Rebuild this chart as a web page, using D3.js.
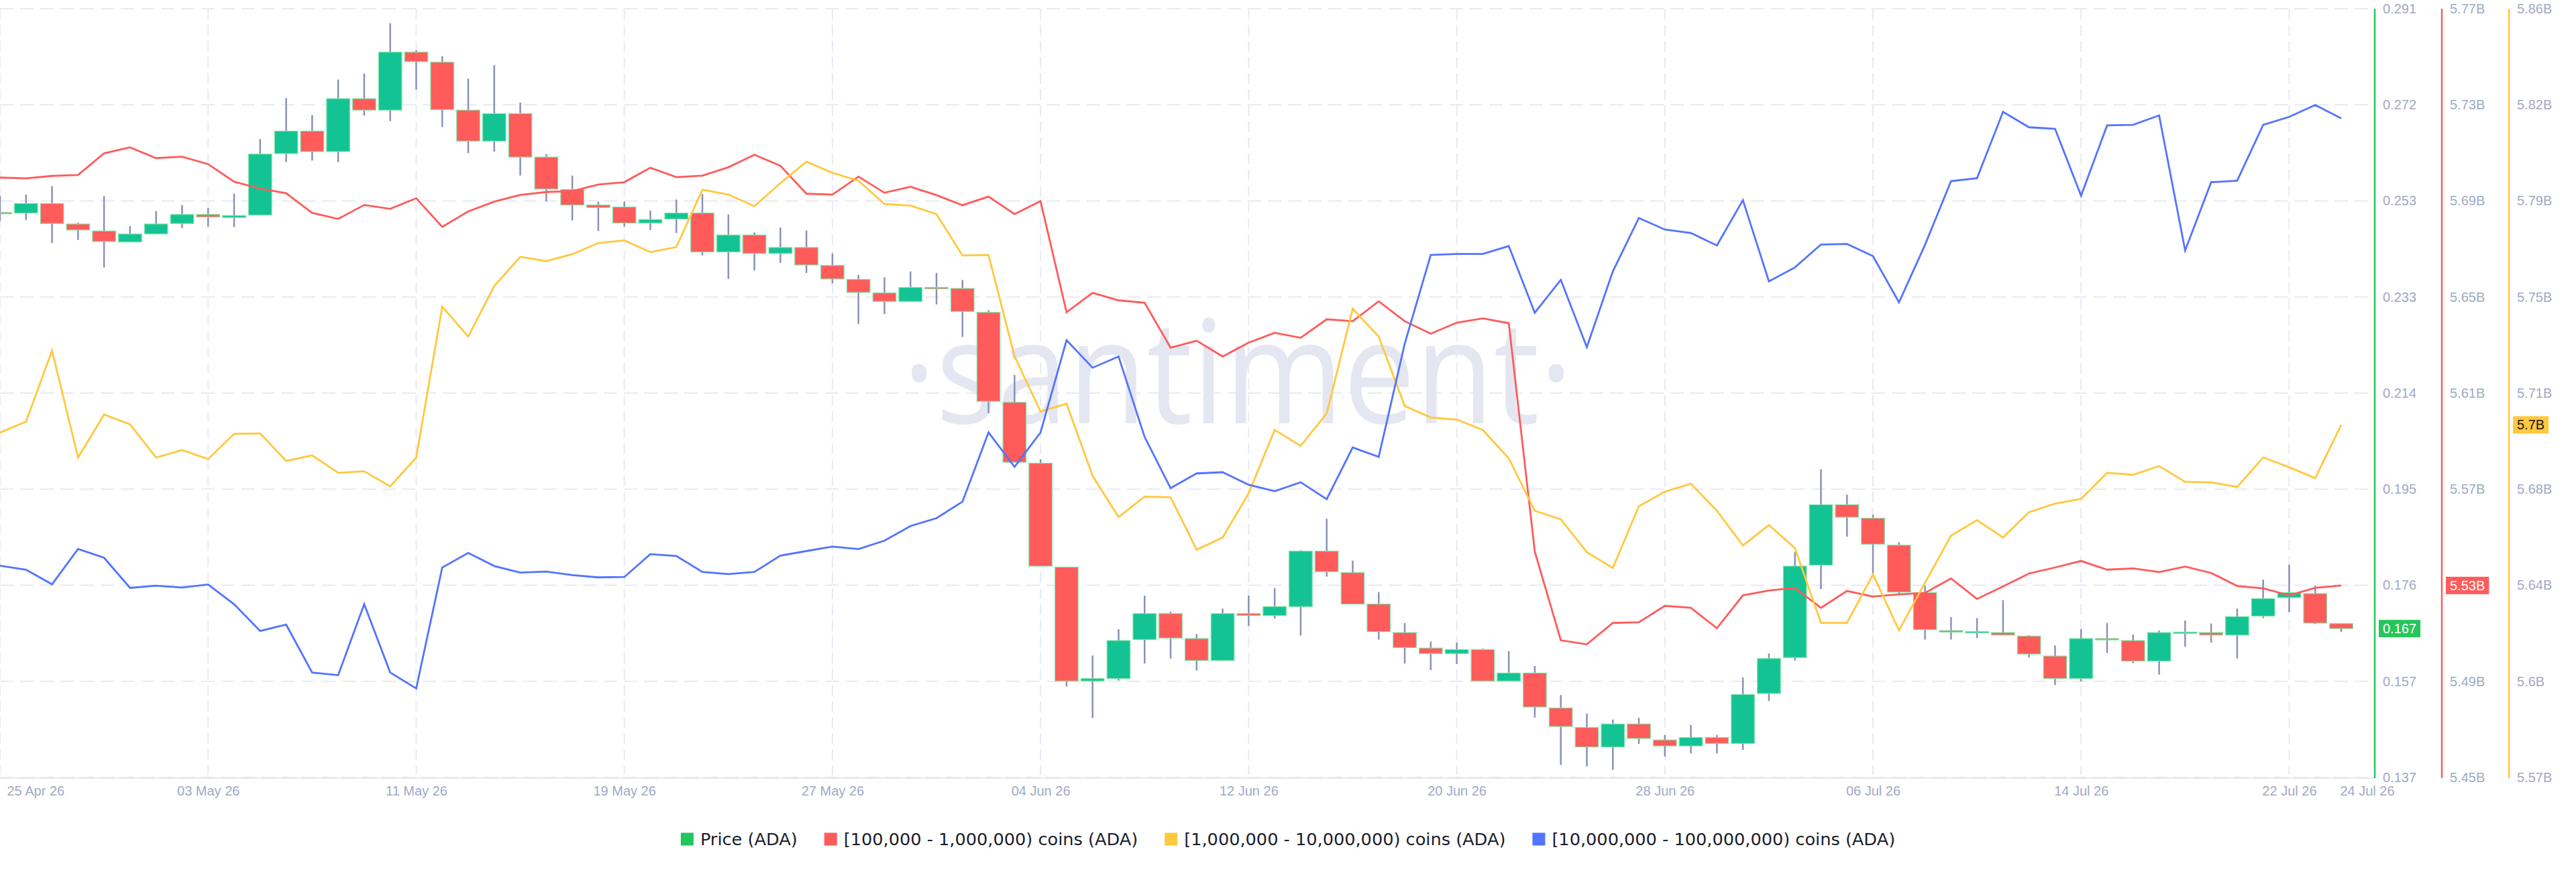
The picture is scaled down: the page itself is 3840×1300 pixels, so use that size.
<!DOCTYPE html>
<html>
<head>
<meta charset="utf-8">
<script src="https://cdn.jsdelivr.net/npm/d3@7"></script>
<style>
  body { margin: 0; background: #fff; }
  svg text { font-family: "Liberation Sans", Arial, sans-serif; }
</style>
</head>
<body>
<div id="chart"></div>
<script>
// Data: ADA daily candles, 25 Apr 26 - 24 Jul 26
var startDay = new Date(2026, 3, 25),
  endDay = new Date(2026, 6, 24);
var days = d3.timeDay.range(startDay, d3.timeDay.offset(endDay, 1));

var priceOpen = [0.2501,0.2500,0.2519,0.2478,0.2464,0.2442,0.2458,0.2479,0.2497,0.2491,
  0.2496,0.2619,0.2664,0.2623,0.2729,0.2706,0.2822,0.2802,0.2706,0.2644,
  0.2699,0.2612,0.2547,0.2516,0.2512,0.2480,0.2488,0.2500,0.2422,0.2456,
  0.2419,0.2431,0.2395,0.2367,0.2340,0.2323,0.2351,0.2349,0.2301,0.2121,
  0.1999,0.1791,0.1563,0.1568,0.1646,0.1698,0.1648,0.1604,0.1698,0.1694,
  0.1712,0.1823,0.1780,0.1717,0.1660,0.1629,0.1618,0.1626,0.1563,0.1579,
  0.1509,0.1470,0.1431,0.1477,0.1445,0.1433,0.1450,0.1438,0.1538,0.1610,
  0.1795,0.1916,0.1889,0.1835,0.1740,0.1664,0.1660,0.1660,0.1653,0.1613,
  0.1568,0.1648,0.1644,0.1603,0.1660,0.1660,0.1655,0.1693,0.1730,0.1738,0.1678];
var priceHigh = [0.2534,0.2537,0.2554,0.2481,0.2534,0.2474,0.2504,0.2516,0.2510,0.2539,
  0.2648,0.2730,0.2696,0.2767,0.2779,0.2880,0.2826,0.2814,0.2769,0.2796,
  0.2721,0.2618,0.2575,0.2523,0.2523,0.2505,0.2527,0.2538,0.2497,0.2461,
  0.2471,0.2465,0.2419,0.2376,0.2371,0.2383,0.2380,0.2366,0.2305,0.2176,
  0.2007,0.1791,0.1614,0.1667,0.1734,0.1702,0.1657,0.1708,0.1734,0.1749,
  0.1825,0.1888,0.1804,0.1741,0.1679,0.1642,0.1640,0.1628,0.1623,0.1593,
  0.1535,0.1498,0.1486,0.1489,0.1455,0.1475,0.1455,0.1570,0.1618,0.1821,
  0.1987,0.1936,0.1896,0.1841,0.1754,0.1691,0.1689,0.1725,0.1655,0.1634,
  0.1667,0.1679,0.1656,0.1664,0.1684,0.1678,0.1708,0.1766,0.1796,0.1754,0.1678];
var priceLow = [0.2484,0.2486,0.2440,0.2446,0.2391,0.2442,0.2458,0.2470,0.2473,0.2472,
  0.2496,0.2602,0.2605,0.2602,0.2695,0.2684,0.2747,0.2672,0.2620,0.2623,
  0.2575,0.2523,0.2485,0.2464,0.2473,0.2466,0.2460,0.2415,0.2368,0.2385,
  0.2400,0.2380,0.2359,0.2278,0.2298,0.2323,0.2317,0.2252,0.2099,0.2001,
  0.1793,0.1552,0.1489,0.1564,0.1598,0.1608,0.1584,0.1604,0.1673,0.1688,
  0.1654,0.1772,0.1717,0.1646,0.1598,0.1585,0.1597,0.1563,0.1563,0.1490,
  0.1395,0.1392,0.1385,0.1437,0.1412,0.1418,0.1418,0.1425,0.1523,0.1604,
  0.1747,0.1852,0.1777,0.1737,0.1646,0.1646,0.1649,0.1655,0.1610,0.1555,
  0.1562,0.1619,0.1599,0.1576,0.1632,0.1640,0.1608,0.1689,0.1701,0.1677,0.1661];
var priceClose = [0.2499,0.2519,0.2479,0.2466,0.2443,0.2458,0.2478,0.2497,0.2492,0.2495,
  0.2618,0.2664,0.2623,0.2729,0.2706,0.2822,0.2803,0.2707,0.2644,0.2699,
  0.2612,0.2548,0.2516,0.2511,0.2480,0.2487,0.2500,0.2422,0.2456,0.2419,
  0.2431,0.2396,0.2368,0.2341,0.2323,0.2351,0.2349,0.2303,0.2123,0.2001,
  0.1793,0.1563,0.1568,0.1644,0.1698,0.1649,0.1604,0.1698,0.1694,0.1712,
  0.1823,0.1782,0.1717,0.1662,0.1630,0.1618,0.1626,0.1563,0.1579,0.1511,
  0.1472,0.1431,0.1477,0.1448,0.1433,0.1450,0.1438,0.1536,0.1608,0.1793,
  0.1916,0.1891,0.1837,0.1741,0.1666,0.1661,0.1662,0.1655,0.1617,0.1568,
  0.1648,0.1646,0.1603,0.1660,0.1661,0.1655,0.1692,0.1728,0.1740,0.1679,0.1668];

// supply held by wallet cohorts, billions of ADA
var coins100k = [5.6997,5.6994,5.7004,5.7008,5.7098,5.7123,5.7078,5.7084,5.7053,5.6980,
  5.6951,5.6932,5.6850,5.6825,5.6883,5.6867,5.6911,5.6792,5.6856,5.6897,
  5.6925,5.6937,5.6941,5.6968,5.6978,5.7038,5.6999,5.7005,5.7040,5.7092,
  5.7046,5.6930,5.6926,5.7001,5.6934,5.6959,5.6924,5.6882,5.6918,5.6845,
  5.6899,5.6436,5.6517,5.6486,5.6476,5.6289,5.6318,5.6252,5.6310,5.6351,
  5.6330,5.6407,5.6399,5.6482,5.6399,5.6347,5.6393,5.6411,5.6391,5.5440,
  5.5071,5.5054,5.5143,5.5146,5.5214,5.5206,5.5121,5.5258,5.5278,5.5289,
  5.5206,5.5276,5.5253,5.5262,5.5268,5.5328,5.5243,5.5295,5.5349,5.5374,
  5.5401,5.5365,5.5370,5.5355,5.5378,5.5351,5.5297,5.5287,5.5258,5.5289,5.5299];
var coins1m = [5.7001,5.7042,5.7310,5.6907,5.7069,5.7032,5.6907,5.6935,5.6901,5.6996,
  5.6998,5.6894,5.6915,5.6849,5.6855,5.6798,5.6907,5.7476,5.7363,5.7554,
  5.7664,5.7648,5.7674,5.7716,5.7726,5.7682,5.7701,5.7917,5.7899,5.7855,
  5.7942,5.8023,5.7981,5.7951,5.7863,5.7857,5.7825,5.7669,5.7671,5.7289,
  5.7080,5.7110,5.6838,5.6682,5.6759,5.6757,5.6559,5.6605,5.6772,5.7011,
  5.6951,5.7073,5.7468,5.7363,5.7101,5.7058,5.7050,5.7011,5.6904,5.6706,
  5.6674,5.6550,5.6490,5.6723,5.6778,5.6808,5.6706,5.6575,5.6652,5.6565,
  5.6283,5.6283,5.6466,5.6255,5.6434,5.6612,5.6671,5.6605,5.6701,5.6733,
  5.6751,5.6849,5.6842,5.6875,5.6815,5.6813,5.6796,5.6907,5.6870,5.6829,5.7030];
var coins10m = [10.5102,10.5081,10.5005,10.5189,10.5143,10.4986,10.4998,10.4988,10.5004,10.4901,
  10.4762,10.4795,10.4546,10.4532,10.4901,10.4546,10.4463,10.5092,10.5168,10.5100,
  10.5066,10.5071,10.5053,10.5041,10.5043,10.5162,10.5152,10.5069,10.5058,10.5069,
  10.5154,10.5178,10.5201,10.5188,10.5232,10.5308,10.5349,10.5435,10.5795,10.5616,
  10.5795,10.6275,10.6132,10.6190,10.5772,10.5505,10.5582,10.5588,10.5523,10.5489,
  10.5536,10.5448,10.5717,10.5668,10.6257,10.6719,10.6724,10.6724,10.6765,10.6418,
  10.6589,10.6239,10.6633,10.6911,10.6851,10.6833,10.6768,10.7004,10.6581,10.6654,
  10.6773,10.6776,10.6713,10.6472,10.6771,10.7103,10.7118,10.7463,10.7383,10.7375,
  10.7027,10.7393,10.7396,10.7445,10.6742,10.7097,10.7105,10.7396,10.7437,10.7499,10.7429];

// Tick labels
var priceTicks = ["0.137","0.157","0.176","0.195","0.214","0.233","0.253","0.272","0.291"],
  redTicks = ["5.45B","5.49B","5.53B","5.57B","5.61B","5.65B","5.69B","5.73B","5.77B"],
  yellowTicks = ["5.57B","5.6B","5.64B","5.68B","5.71B","5.75B","5.79B","5.82B","5.86B"];
var dateTicks = [new Date(2026,3,25), new Date(2026,4,3), new Date(2026,4,11), new Date(2026,4,19),
  new Date(2026,4,27), new Date(2026,5,4), new Date(2026,5,12), new Date(2026,5,20),
  new Date(2026,5,28), new Date(2026,6,6), new Date(2026,6,14), new Date(2026,6,22)];

var legendItems = ["Price (ADA)", "[100,000  - 1,000,000) coins (ADA)",
  "[1,000,000 - 10,000,000) coins (ADA)", "[10,000,000 - 100,000,000) coins (ADA)"];

// Placement
var W = 3840, H = 1300,
  plotW = 3540,
  plotTop = 13,
  plotBottom = 1159,
  lastX = 3490;

var green = "#14c393", red = "#ff5b5b",
  axisGreen = "#26c35f", yellow = "#ffc83d", blue = "#5274ff",
  grid = "#e7eaf4", label = "#a1a9c2";

var x = d3.scaleTime().domain([startDay, endDay]).range([0, lastX]);
var yPrice = d3.scaleLinear().domain([0.137, 0.2909]).range([plotBottom, plotTop]),
  yRed = d3.scaleLinear().domain([5.45, 5.77]).range([plotBottom, plotTop]),
  yYellow = d3.scaleLinear().domain([5.57, 5.86]).range([plotBottom, plotTop]),
  yBlue = d3.scaleLinear().domain([10.40, 10.80]).range([plotBottom, plotTop]);

function tickVals(scale) {
  var dom = scale.domain();
  return d3.range(9).map(function(i) { return dom[0] + i * (dom[1] - dom[0]) / 8; });
}

var svg = d3.select("#chart").append("svg")
  .attr("width", W)
  .attr("height", H);

// grid
svg.append("g").selectAll("line")
  .data(tickVals(yPrice))
  .enter().append("line")
  .attr("x1", 0).attr("x2", plotW)
  .attr("y1", function(d) { return yPrice(d); })
  .attr("y2", function(d) { return yPrice(d); })
  .attr("stroke", grid).attr("stroke-width", 2)
  .attr("stroke-dasharray", "20,10");

svg.append("g").selectAll("line")
  .data(dateTicks)
  .enter().append("line")
  .attr("x1", function(d) { return x(d); })
  .attr("x2", function(d) { return x(d); })
  .attr("y1", plotTop).attr("y2", plotBottom - 4)
  .attr("stroke", grid).attr("stroke-width", 2)
  .attr("stroke-dasharray", "16,8");

// watermark
svg.append("text")
  .attr("x", 1345).attr("y", 631)
  .attr("textLength", 1000)
  .attr("lengthAdjust", "spacingAndGlyphs")
  .style("font-family", "'Open Sans', sans-serif")
  .style("font-size", "215px")
  .attr("fill", "#e4e7f1")
  .text("·santiment·");

// x axis
svg.append("line")
  .attr("x1", 0).attr("x2", plotW)
  .attr("y1", plotBottom + 1).attr("y2", plotBottom + 1)
  .attr("stroke", "#e3e7f1").attr("stroke-width", 2);

var xAxis = svg.append("g")
  .attr("transform", "translate(0," + (plotBottom + 1) + ")")
  .call(d3.axisBottom(x).tickValues(dateTicks).tickSize(0).tickPadding(12)
    .tickFormat(d3.timeFormat("%d %b %y")));
xAxis.select(".domain").remove();
xAxis.selectAll("text").attr("fill", label).style("font-size", "20px");
xAxis.select(".tick text").attr("text-anchor", "start").attr("x", 10);

svg.append("text")
  .attr("x", x(endDay) + 39).attr("y", plotBottom + 13)
  .attr("dy", "0.71em")
  .attr("text-anchor", "middle")
  .attr("fill", label).style("font-size", "20px")
  .text(d3.timeFormat("%d %b %y")(endDay));

// candles
var cw = 0.89 * (x(days[1]) - x(days[0]));
var candles = svg.append("g").selectAll("g")
  .data(days)
  .enter().append("g");

candles.append("line")
  .attr("x1", function(d) { return x(d); })
  .attr("x2", function(d) { return x(d); })
  .attr("y1", function(d, i) { return yPrice(priceHigh[i]); })
  .attr("y2", function(d, i) { return yPrice(priceLow[i]); })
  .attr("stroke", "#8a91b4").attr("stroke-width", 2.5);

candles.append("rect")
  .attr("x", function(d) { return x(d) - cw / 2; })
  .attr("width", cw)
  .attr("y", function(d, i) { return yPrice(Math.max(priceOpen[i], priceClose[i])); })
  .attr("height", function(d, i) {
    return Math.max(2, Math.abs(yPrice(priceOpen[i]) - yPrice(priceClose[i]))); })
  .attr("fill", function(d, i) { return priceClose[i] >= priceOpen[i] ? green : red; })
  .attr("stroke", "#7fe3a4").attr("stroke-width", 1.2);

// holder lines
function drawLine(values, scale, color) {
  svg.append("path")
    .datum(values)
    .attr("fill", "none")
    .attr("stroke", color)
    .attr("stroke-width", 2.8)
    .attr("stroke-linejoin", "miter")
    .attr("d", d3.line()
      .x(function(d, i) { return x(days[i]); })
      .y(function(d) { return scale(d); }));
}
drawLine(coins100k, yRed, red);
drawLine(coins1m, yYellow, yellow);
drawLine(coins10m, yBlue, blue);

// right axes
function drawAxis(xpos, scale, labels, color) {
  svg.append("line")
    .attr("x1", xpos).attr("x2", xpos)
    .attr("y1", plotTop).attr("y2", plotBottom + 1)
    .attr("stroke", color).attr("stroke-width", 2.5);
  var g = svg.append("g")
    .attr("transform", "translate(" + xpos + ",0)")
    .call(d3.axisRight(scale).tickValues(tickVals(scale)).tickSize(0).tickPadding(12)
      .tickFormat(function(d, i) { return labels[i]; }));
  g.select(".domain").remove();
  g.selectAll("text").attr("fill", label).style("font-size", "20px");
}
drawAxis(plotW, yPrice, priceTicks, axisGreen);
drawAxis(plotW + 100, yRed, redTicks, red);
drawAxis(plotW + 200, yYellow, yellowTicks, yellow);

// last value badges
function badge(xpos, ypos, txt, fill, textColor) {
  var g = svg.append("g");
  var r = g.append("rect")
    .attr("fill", fill);
  var t = g.append("text")
    .attr("x", xpos + 12).attr("y", ypos)
    .attr("dy", "0.35em")
    .attr("fill", textColor)
    .style("font-size", "20px")
    .text(txt);
  var w = t.node().getComputedTextLength();
  r.attr("x", xpos + 6).attr("y", ypos - 13).attr("width", w + 12).attr("height", 26);
}
var n = days.length - 1;
badge(plotW, yPrice(priceClose[n]), d3.format(".3f")(priceClose[n]), "#27c65c", "#fff");
badge(plotW + 100, yRed(coins100k[n]), d3.format(".2f")(coins100k[n]) + "B", red, "#fff");
badge(plotW + 200, yYellow(coins1m[n]), d3.format(".1f")(coins1m[n]) + "B", yellow, "#151515");

// legend
var legendColors = ["#22c55e", red, yellow, blue];
var legend = svg.append("g");
var lx = 0;
legendItems.forEach(function(name, i) {
  var item = legend.append("g").attr("transform", "translate(" + lx + ",0)");
  item.append("rect")
    .attr("x", 0).attr("y", -9.5)
    .attr("width", 19).attr("height", 19)
    .attr("fill", legendColors[i]);
  var t = item.append("text")
    .attr("x", 29).attr("y", 0)
    .attr("dy", "0.36em")
    .style("font-family", "'DejaVu Sans', sans-serif")
    .style("font-size", "25.6px")
    .attr("fill", "#1b1d2c")
    .text(name);
  lx += 29 + t.node().getComputedTextLength() + 40;
});
lx -= 40;
legend.attr("transform", "translate(" + (W / 2 - lx / 2) + ",1251)");
</script>
</body>
</html>
